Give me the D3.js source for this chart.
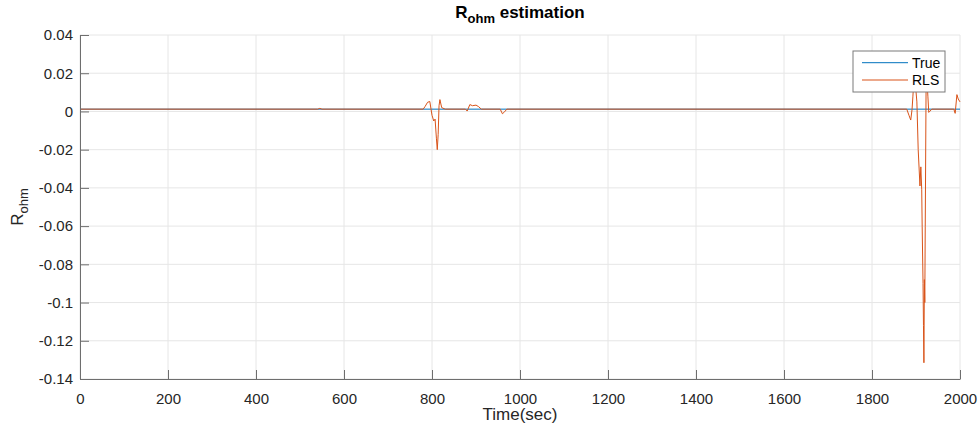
<!DOCTYPE html>
<html>
<head>
<meta charset="utf-8">
<script src="https://cdn.jsdelivr.net/npm/d3@7"></script>
<style>
  body { margin: 0; background: #fff; }
  text { font-family: "Liberation Sans", Arial, sans-serif; }
</style>
</head>
<body>
<div id="chart"></div>
<script>
// data
var trueTime = [0, 2000];
var trueVal = [0.0012, 0.0012];

var rlsTime = [0, 540, 545, 550, 780, 784, 790, 795, 800, 804, 807, 810, 812, 814, 816, 818, 822, 830,
  876, 880, 886, 892, 900, 906, 912, 916, 925, 955, 960, 965, 970, 1879, 1884, 1888, 1891, 1893,
  1895, 1898, 1902, 1905, 1909, 1911, 1913, 1914, 1916, 1917, 1918, 1919, 1920, 1921, 1923, 1925,
  1927, 1929, 1932, 1936, 1982, 1986, 1989, 1993, 1996, 2000];
var rlsVal = [0.0012, 0.0012, 0.0016, 0.0012, 0.0012, 0.0025, 0.0048, 0.0052, -0.002, -0.005, -0.004,
  -0.014, -0.020, -0.012, 0.003, 0.0062, 0.002, 0.0012,
  0.0012, 0.0002, 0.0036, 0.0030, 0.0033, 0.0025, 0.0012, 0.0012, 0.0012, 0.0012, -0.0012, -0.0002,
  0.0012, 0.0012, -0.002, -0.0045, 0.001, 0.008, 0.016, 0.016, 0.005, -0.02, -0.039, -0.029, -0.041,
  -0.06, -0.09, -0.112, -0.1315, -0.088, -0.10, -0.06, 0.016, 0.016, 0.008, -0.0005, 0.0002, 0.0012,
  0.0012, 0.0012, -0.001, 0.0088, 0.0065, 0.005];

var xTicks = [0, 200, 400, 600, 800, 1000, 1200, 1400, 1600, 1800, 2000];
var yTicks = [0.04, 0.02, 0, -0.02, -0.04, -0.06, -0.08, -0.1, -0.12, -0.14];

var width = 978, height = 433;
var margin = {left: 80, right: 18, top: 35, bottom: 54};

var svg = d3.select("#chart").append("svg")
    .attr("width", width)
    .attr("height", height);

var x = d3.scaleLinear().domain([0, 2000]).range([margin.left, width - margin.right]);
var y = d3.scaleLinear().domain([-0.14, 0.04]).range([height - margin.bottom, margin.top]);

// grid
svg.append("g").selectAll("line").data(xTicks).enter().append("line")
    .attr("x1", function(d) { return x(d); }).attr("x2", function(d) { return x(d); })
    .attr("y1", y(-0.14)).attr("y2", y(0.04))
    .attr("stroke", "#e6e6e6").attr("stroke-width", 1);
svg.append("g").selectAll("line").data(yTicks).enter().append("line")
    .attr("x1", x(0)).attr("x2", x(2000))
    .attr("y1", function(d) { return y(d); }).attr("y2", function(d) { return y(d); })
    .attr("stroke", "#e6e6e6").attr("stroke-width", 1);

// lines
var line = d3.line()
    .x(function(d) { return x(d[0]); })
    .y(function(d) { return y(d[1]); });

var plot = svg.append("g");
plot.append("path")
    .datum(d3.zip(trueTime, trueVal))
    .attr("d", line)
    .attr("fill", "none").attr("stroke", "#0072BD").attr("stroke-width", 1);
plot.append("path")
    .datum(d3.zip(rlsTime, rlsVal))
    .attr("d", line)
    .attr("fill", "none").attr("stroke", "#D95319").attr("stroke-width", 1);

// axes
var xAxis = svg.append("g")
    .attr("transform", "translate(0," + y(-0.14) + ")")
    .call(d3.axisBottom(x).tickValues(xTicks).tickSizeInner(-9).tickSizeOuter(0).tickPadding(14)
        .tickFormat(d3.format("d")));
var yAxis = svg.append("g")
    .attr("transform", "translate(" + x(0) + ",0)")
    .call(d3.axisLeft(y).tickValues(yTicks).tickSizeInner(-9).tickSizeOuter(0).tickPadding(7)
        .tickFormat(function(d) { return d === 0 ? "0" : String(+d.toFixed(2)); }));

[xAxis, yAxis].forEach(function(a) {
    a.select(".domain").attr("stroke", "#6e6e6e");
    a.selectAll(".tick line").attr("stroke", "#6e6e6e");
    a.selectAll(".tick text").attr("fill", "#262626")
        .style("font-size", "15px").style("font-family", "Liberation Sans, Arial, sans-serif");
});

// title
var title = svg.append("text")
    .attr("x", (x(0) + x(2000)) / 2)
    .attr("y", 18)
    .attr("text-anchor", "middle")
    .attr("fill", "#000")
    .style("font-size", "17px")
    .style("font-weight", "bold");
title.append("tspan").text("R");
title.append("tspan").attr("dy", 5).style("font-size", "13px").text("ohm");
title.append("tspan").attr("dy", -5).text(" estimation");

// x label
svg.append("text")
    .attr("x", (x(0) + x(2000)) / 2)
    .attr("y", 420)
    .attr("text-anchor", "middle")
    .attr("fill", "#262626")
    .style("font-size", "17px")
    .text("Time(sec)");

// y label
var yl = svg.append("text")
    .attr("transform", "translate(23," + ((y(0.04) + y(-0.14)) / 2) + ") rotate(-90)")
    .attr("text-anchor", "middle")
    .attr("fill", "#262626")
    .style("font-size", "17px");
yl.append("tspan").text("R");
yl.append("tspan").attr("dy", 5).style("font-size", "13px").text("ohm");

// legend
var lg = svg.append("g").attr("transform", "translate(853,51)");
lg.append("rect")
    .attr("width", 92).attr("height", 41)
    .attr("fill", "#fff").attr("stroke", "#7a7a7a").attr("stroke-width", 1);
var items = [["True", "#0072BD"], ["RLS", "#D95319"]];
items.forEach(function(it, i) {
    var yy = 11.7 + i * 17.3;
    lg.append("line")
        .attr("x1", 9).attr("x2", 55).attr("y1", yy).attr("y2", yy)
        .attr("stroke", it[1]).attr("stroke-width", 1);
    lg.append("text")
        .attr("x", 59).attr("y", yy + 5)
        .attr("fill", "#000")
        .style("font-size", "14px")
        .text(it[0]);
});
</script>
</body>
</html>
